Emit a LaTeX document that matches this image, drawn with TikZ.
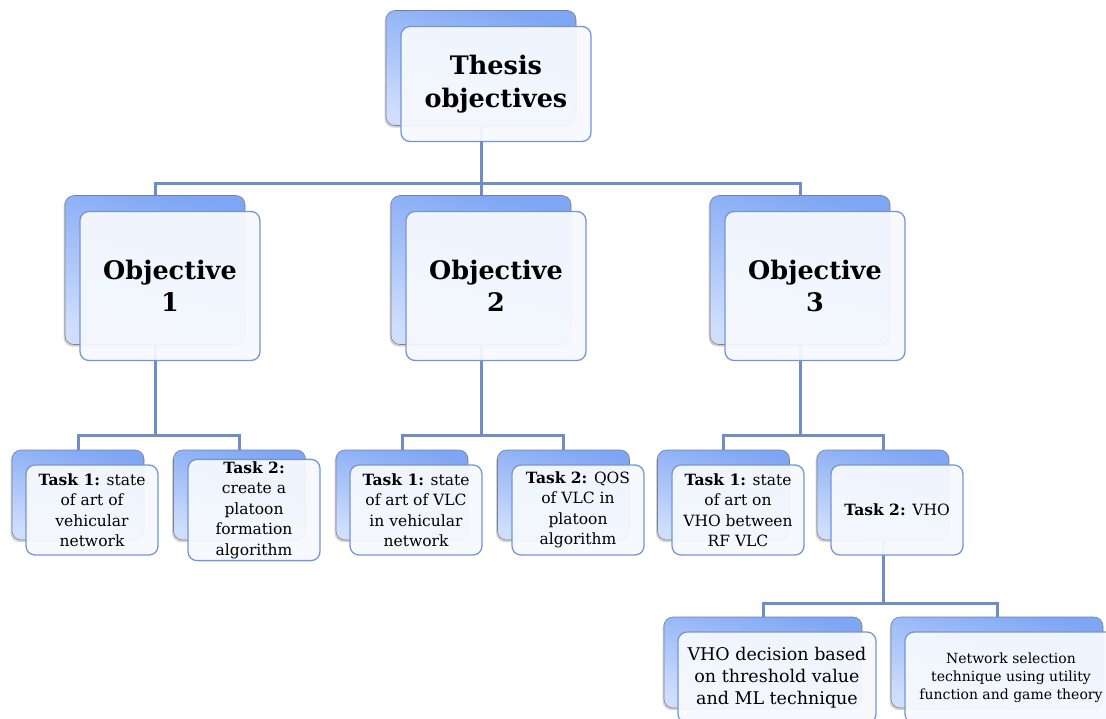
\documentclass[tikz,border=0pt]{standalone}
\usepackage{fontspec}
\setmainfont{DejaVu Serif}
\usetikzlibrary{shadows}
\pgfdeclarelayer{background}
\pgfsetlayers{background,main}
\definecolor{boxtop}{HTML}{7FA6F4}
\definecolor{boxbot}{HTML}{CFDEFD}
\definecolor{frontline}{HTML}{7397D6}
\definecolor{frontfill}{HTML}{F6F9FE}
\definecolor{conncol}{HTML}{6F8DC9}
\newcommand{\thesisfont}{\fontsize{25.5}{33}\selectfont\bfseries}
\newcommand{\objfont}{\fontsize{25.5}{32}\selectfont\bfseries}
\newcommand{\taskfont}{\fontsize{15.5}{20.5}\selectfont}
\newcommand{\subfont}{\fontsize{17.5}{22}\selectfont}
\newcommand{\smallsubfont}{\fontsize{14}{18}\selectfont}
\begin{document}
\begin{tikzpicture}[x=1pt,y=-1pt,
    back/.style={rectangle,draw=black!50,line width=0.6pt,rounded corners=9pt,top color=boxtop,bottom color=boxbot,shading angle=-15,drop shadow={shadow xshift=-1.5pt,shadow yshift=-2pt,opacity=.35}},
    front/.style={rectangle,draw=frontline,line width=1.3pt,rounded corners=9pt,fill=frontfill,fill opacity=.94,text opacity=1,align=center,inner sep=2pt},
    lvlzero/.style={minimum width=190pt,minimum height=115pt},
    lvlone/.style={minimum width=180pt,minimum height=149pt},
    lvltwo/.style={minimum width=132pt,minimum height=90pt},
    lvlthree/.style={minimum width=198pt,minimum height=91pt},
    lvlwide/.style={minimum width=212pt,minimum height=91pt},
    conn/.style={draw=conncol,line width=3pt}]
    \useasboundingbox (0,0) rectangle (1106,718);
    \clip (0,0) rectangle (1106,718);
    \node[back,lvlzero] (thesisb) at (481,68) {};
    \node[front,lvlzero,font=\thesisfont] (thesis) at (496,84) {Thesis\\objectives};
    \node[back,lvlone] (obj1b) at (155,270) {};
    \node[front,lvlone,font=\objfont] (obj1) at (170,286) {Objective\\1};
    \node[back,lvlone] (obj2b) at (481,270) {};
    \node[front,lvlone,font=\objfont] (obj2) at (496,286) {Objective\\2};
    \node[back,lvlone] (obj3b) at (800,270) {};
    \node[front,lvlone,font=\objfont] (obj3) at (815,286) {Objective\\3};
    \node[back,lvltwo] (t11b) at (78,495) {};
    \node[front,lvltwo,font=\taskfont] (t11) at (92,510) {\textbf{Task 1:} state\\of art of\\vehicular\\network};
    \node[back,lvltwo] (t12b) at (239.5,495) {};
    \node[front,lvltwo,font=\taskfont] (t12) at (254,510) {\textbf{Task 2:}\\create a\\platoon\\formation\\algorithm};
    \node[back,lvltwo] (t21b) at (402,495) {};
    \node[front,lvltwo,font=\taskfont] (t21) at (416,510) {\textbf{Task 1:} state\\of art of VLC\\in vehicular\\network};
    \node[back,lvltwo] (t22b) at (563.5,495) {};
    \node[front,lvltwo,font=\taskfont] (t22) at (578,510) {\textbf{Task 2:} QOS\\of VLC in\\platoon\\algorithm};
    \node[back,lvltwo] (t31b) at (723.5,495) {};
    \node[front,lvltwo,font=\taskfont] (t31) at (738,510) {\textbf{Task 1:} state\\of art on\\VHO between\\RF VLC};
    \node[back,lvltwo] (t32b) at (883,495) {};
    \node[front,lvltwo,font=\taskfont] (t32) at (897,510) {\textbf{Task 2:} VHO};
    \node[back,lvlthree] (s1b) at (763,662.5) {};
    \node[front,lvlthree,font=\subfont] (s1) at (777,677.5) {VHO decision based\\on threshold value\\and ML technique};
    \node[back,lvlwide] (s2b) at (997,662.5) {};
    \node[front,lvlwide,font=\smallsubfont] (s2) at (1011,677.5) {Network selection\\technique using utility\\function and game theory};
    \coordinate (bus0) at (0,183);\coordinate (bus1) at (0,435);\coordinate (bus2) at (0,603);
    \begin{pgfonlayer}{background}
        \draw[conn] (thesisb.south) |- (obj1b.north |- bus0) -- (obj1b.north) (thesisb.south) -- (obj2b.north) (thesisb.south) |- (obj3b.north |- bus0) -- (obj3b.north);
        \draw[conn] (obj1b.south) |- (t11b.north |- bus1) -- (t11b.north) (obj1b.south) |- (t12b.north |- bus1) -- (t12b.north);
        \draw[conn] (obj2b.south) |- (t21b.north |- bus1) -- (t21b.north) (obj2b.south) |- (t22b.north |- bus1) -- (t22b.north);
        \draw[conn] (obj3b.south) |- (t31b.north |- bus1) -- (t31b.north) (obj3b.south) |- (t32b.north |- bus1) -- (t32b.north);
        \draw[conn] (t32b.south) |- (s1b.north |- bus2) -- (s1b.north) (t32b.south) |- (s2b.north |- bus2) -- (s2b.north);
    \end{pgfonlayer}
\end{tikzpicture}
\end{document}
